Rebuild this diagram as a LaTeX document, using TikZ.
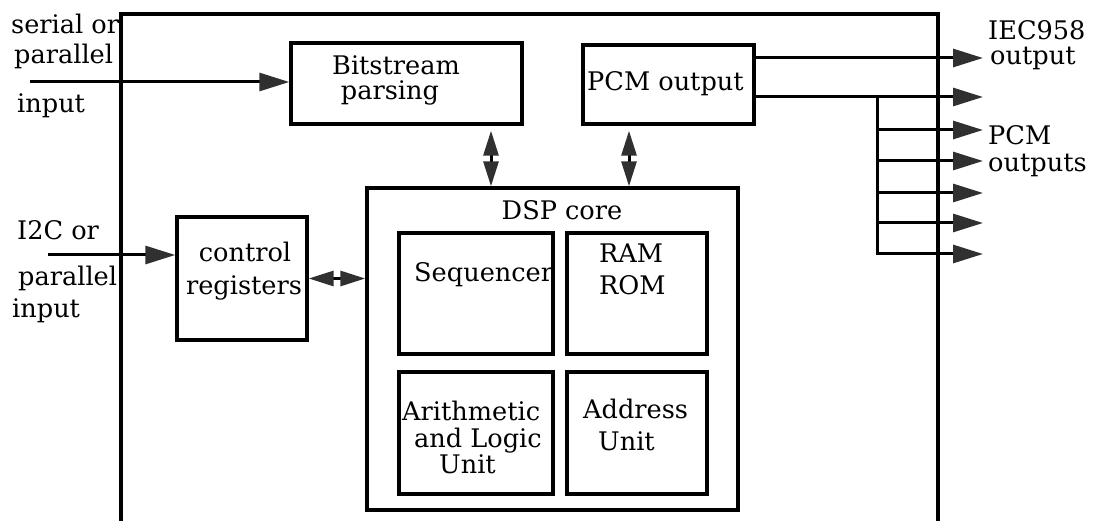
\documentclass[tikz,border=0pt]{standalone}
\usepackage{fontspec}
\setmainfont{DejaVu Serif}
\usetikzlibrary{arrows.meta}
\definecolor{tipgray}{HTML}{303030}
\tikzset{
  blk/.style={draw=black, line width=3.4pt, inner sep=0pt, fill=none},
  txt/.style={inner sep=0pt, anchor=base west, font=\fontsize{25.6}{30}\selectfont},
  txtc/.style={txt, anchor=base},
  wire/.style={line width=3pt, draw=black},
  bigtip/.tip={Triangle[length=30pt,width=18pt,color=tipgray]},
  smalltip/.tip={Triangle[length=25pt,width=15pt,color=tipgray]},
  outarrow/.style={wire, -{bigtip}},
  biarrow/.style={wire, {smalltip}-{smalltip}}
}
\begin{document}
\begin{tikzpicture}[x=1pt,y=-1pt]
\useasboundingbox (0,0) rectangle (1095,521);
% outer chip outline (bottom runs off the picture)
\draw[line width=3.4pt] (121,521) -- (121,14) -- (938,14) -- (938,521);

% blocks
\node[blk, minimum width=231pt, minimum height=81pt] (bit) at (406.5,83.5) {};
\node[blk, minimum width=171pt, minimum height=79pt] (pcm) at (668.5,84.5) {};
\node[blk, minimum width=130pt, minimum height=123pt] (ctrl) at (242,278.5) {};
\node[blk, minimum width=371pt, minimum height=322pt] (dsp) at (552.5,349) {};
\node[blk, minimum width=154pt, minimum height=121pt] (seq) at (476,293.5) {};
\node[blk, minimum width=140pt, minimum height=121pt] (mem) at (637,293.5) {};
\node[blk, minimum width=154pt, minimum height=122pt] (alu) at (476,433) {};
\node[blk, minimum width=140pt, minimum height=122pt] (adr) at (637,433) {};

% block texts
\node[txtc] (t-bit1) at (396,75) {Bitstream};
\node[txtc] (t-bit2) at (390,100) {parsing};
\node[txt] (t-pcm) at (587,91) {PCM output};
\node[txtc] (t-ctrl1) at (245,262) {control};
\node[txtc] (t-ctrl2) at (244,295) {registers};
\node[txtc] (t-dsp) at (562,220) {DSP core};
\node[txt] (t-seq) at (414,282) {Sequencer};
\node[txt] (t-ram) at (599,263) {RAM};
\node[txt] (t-rom) at (599,295) {ROM};
\node[txt] (t-alu1) at (402,420) {Arithmetic};
\node[txt] (t-alu2) at (414,447) {and Logic};
\node[txt] (t-alu3) at (439,473) {Unit};
\node[txt] (t-adr1) at (583,418) {Address};
\node[txt] (t-adr2) at (598,450) {Unit};

% outside labels
\node[txt] (l-ser1) at (11,34) {serial or};
\node[txt] (l-ser2) at (14,64) {parallel};
\node[txt] (l-ser3) at (17,113) {input};
\node[txt] (l-i2c1) at (17,240) {I2C or};
\node[txt] (l-i2c2) at (18,286) {parallel};
\node[txt] (l-i2c3) at (12,318) {input};
\node[txt] (l-iec1) at (988,40) {IEC958};
\node[txt] (l-iec2) at (990,65) {output};
\node[txt] (l-pcm1) at (988,145) {PCM};
\node[txt] (l-pcm2) at (988,172) {outputs};

% coordinates for connector ends
\coordinate (in1) at (30,82);
\coordinate (in2) at (48,255);
\coordinate (bx) at (491,0);
\coordinate (px) at (629,0);
\coordinate (iec) at (983,58);
\coordinate (o1) at (983,97);
\coordinate (br) at (877,97);
\coordinate (brend) at (877,254);
\coordinate (o2) at (983,130);
\coordinate (o3) at (983,161);
\coordinate (o4) at (983,193);
\coordinate (o5) at (983,223);
\coordinate (o6) at (983,254);

% inputs
\draw[outarrow] (in1) -- (in1 -| bit.west);
\draw[outarrow] (in2) -- (in2 -| ctrl.west);
% internal bidirectional links
\draw[biarrow, shorten <=5pt] (bit.south -| bx) -- (dsp.north -| bx);
\draw[biarrow, shorten <=5pt] (pcm.south -| px) -- (dsp.north -| px);
\draw[biarrow] (ctrl.east) -- (ctrl.east -| dsp.west);
% outputs
\draw[outarrow] (pcm.east |- iec) -- (iec);
\draw[outarrow] (pcm.east |- o1) -- (o1);
\draw[wire, line cap=rect] (br) -- (brend);
\foreach \o in {o2,o3,o4,o5,o6} {
  \draw[outarrow] (br |- \o) -- (\o);
}
\end{tikzpicture}
\end{document}
